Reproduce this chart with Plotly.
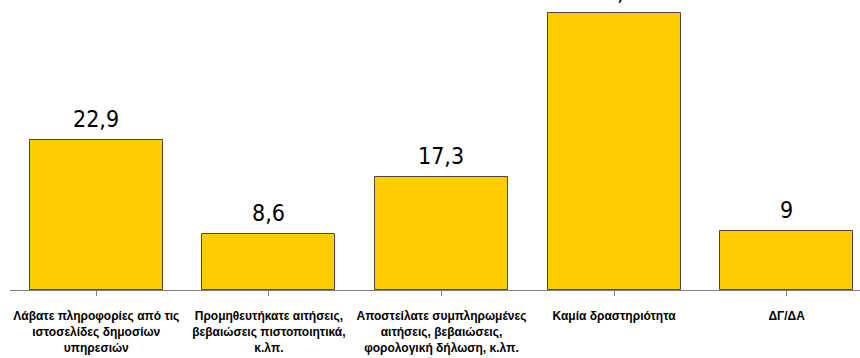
import plotly.graph_objects as go

# Internet use for contact with public services (%)
categories = [
    "Λάβατε πληροφορίες από τις<br>ιστοσελίδες δημοσίων<br>υπηρεσιών",
    "Προμηθευτήκατε αιτήσεις,<br>βεβαιώσεις πιστοποιητικά,<br>κ.λπ.",
    "Αποστείλατε συμπληρωμένες<br>αιτήσεις, βεβαιώσεις,<br>φορολογική δήλωση, κ.λπ.",
    "Καμία δραστηριότητα",
    "ΔΓ/ΔΑ",
]
values = [22.9, 8.6, 17.3, 42.3, 9]
value_labels = ["22,9", "8,6", "17,3", "42,3", "9"]

xs = list(range(len(categories)))

fig = go.Figure(
    go.Bar(
        x=xs,
        y=values,
        width=0.77,
        marker=dict(color="#FFCC00", line=dict(color="#4a4a3a", width=1)),
        cliponaxis=False,
    )
)

# value labels above each bar
for x, v, t in zip(xs, values, value_labels):
    fig.add_annotation(
        x=x, y=v, text=t, showarrow=False,
        yanchor="bottom", yshift=6,
        font=dict(family="DejaVu Sans Condensed, Liberation Sans Narrow, sans-serif", size=23, color="#000000"),
    )

fig.update_layout(
    width=860,
    height=358,
    margin=dict(l=10, r=0, t=0, b=68),
    plot_bgcolor="white",
    paper_bgcolor="white",
    showlegend=False,
    bargap=0,
)

fig.update_xaxes(
    tickmode="array",
    tickvals=xs,
    ticktext=categories,
    range=[-0.5, 4.425],
    showline=True,
    linecolor="#808080",
    linewidth=1,
    ticks="outside",
    tickson="boundaries",
    ticklen=5,
    tickcolor="#808080",
    tickangle=0,
    ticklabelstandoff=10,
    tickfont=dict(family="Liberation Sans, Arial, sans-serif", size=12, color="#000000", weight="bold"),
    showgrid=False,
    zeroline=False,
)

fig.update_yaxes(
    range=[0, 44.3],
    visible=False,
    showgrid=False,
    zeroline=False,
)

fig.write_html("out.html")
